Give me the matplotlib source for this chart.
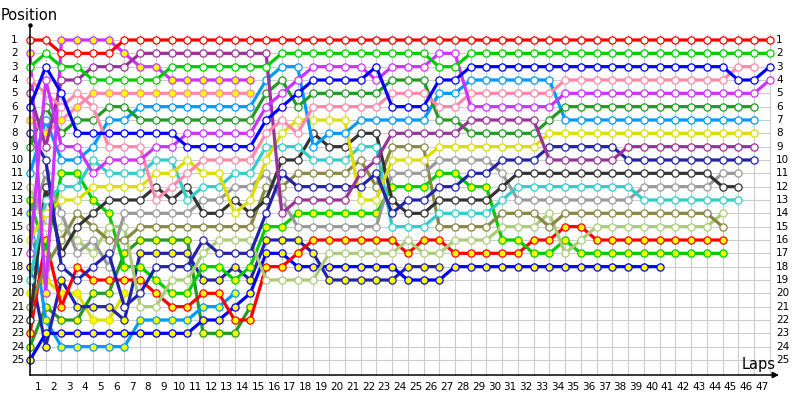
import numpy as np
import matplotlib
matplotlib.use("Agg")
import matplotlib.pyplot as plt

N_ = None
laps = list(range(48))
positions = list(range(1, 26))
lap_labels = [str(i) for i in range(1, 48)]

# ---- positions per lap (lap 0 = grid), None = not running ----
red_open = [1,1,2,2,2,2,1,1,1,1, 1,1,1,1,1,1,1,1,1,1, 1,1,1,1,1,1,1,1,1,1, 1,1,1,1,1,1,1,1,1,1, 1,1,1,1,1,1,1,1]
green_open = [3,2,3,3,4,4,4,4,4,3, 3,3,3,3,3,3,2,2,2,2, 2,2,2,2,2,2,3,3,2,2, 2,2,2,2,2,2,2,2,2,2, 2,2,2,2,2,2,2,2]
blue_open = [6,3,5,8,8,8,8,8,8,8, 9,9,9,9,9,7,6,5,4,4, 4,4,3,6,6,6,4,4,3,3, 3,3,3,3,3,3,3,3,3,3, 3,3,3,3,3,4,4,3]
violet_open = [17,4,9,9,11,10,10,10,9,9, 8,8,8,8,8,6,5,4,3,3, 3,3,4,3,3,3,2,2,6,6, 6,6,6,6,5,5,5,5,5,5, 5,5,5,5,5,5,5,4]
pink_open = [4,5,6,5,6,9,9,9,13,12, 11,10,10,10,10,8,7,8,6,6, 6,6,6,5,5,5,6,6,5,5, 5,5,5,5,4,4,4,4,4,4, 4,4,4,4,4,3,3,N_]
purple_open = [5,9,4,4,3,3,3,2,2,2, 2,2,2,2,2,2,14,13,13,13, 13,11,10,8,8,8,8,8,7,7, 7,7,7,10,10,10,10,10,9,9, 9,9,9,9,9,9,9,N_]
violet_fill = [2,20,1,1,1,1,2,3,3,4, 4,4,4,4,4,N_,N_,N_,N_,N_, N_,N_,N_,N_,N_,N_,N_,N_,N_,N_, N_,N_,N_,N_,N_,N_,N_,N_,N_,N_, N_,N_,N_,N_,N_,N_,N_,N_]
pink_fill = [7,8,7,6,5,5,5,5,5,5, 5,5,5,5,5,N_,N_,N_,N_,N_, N_,N_,N_,N_,N_,N_,N_,N_,N_,N_, N_,N_,N_,N_,N_,N_,N_,N_,N_,N_, N_,N_,N_,N_,N_,N_,N_,N_]
dkgreen_open = [9,6,8,7,7,6,6,7,7,7, 7,7,7,7,7,5,4,6,5,5, 5,5,5,4,4,4,7,7,8,8, 8,8,8,7,6,6,6,6,6,6, 6,6,6,6,6,6,6,N_]
ltblue_open = [11,7,10,10,9,7,7,6,6,6, 6,6,6,6,6,4,3,3,9,8, 8,7,7,7,7,7,5,5,4,4, 4,4,4,4,7,7,7,7,7,7, 7,7,7,7,7,7,7,N_]
navy_open = [8,10,18,19,18,17,21,20,18,18, 18,16,17,17,17,14,11,12,12,12, 12,12,11,14,13,13,12,12,11,11, 10,10,10,9,9,9,9,9,10,10, 10,10,10,10,10,10,10,N_]
yellow_open = [16,14,13,13,12,12,12,12,11,11, 10,11,11,14,13,10,8,7,7,7, 7,13,13,10,10,10,9,9,9,9, 9,9,9,8,8,8,8,8,8,8, 8,8,8,8,8,8,8,N_]
cyan_open = [19,13,12,12,10,11,11,11,10,10, 13,12,12,11,11,9,9,9,10,10, 10,9,9,15,15,15,14,14,14,14, 13,12,12,12,12,12,12,12,12,13, 13,13,13,13,13,13,N_,N_]
dkgray_open = [22,12,17,15,14,13,13,13,12,13, 12,14,14,13,14,13,10,10,8,9, 9,8,8,13,14,14,13,13,13,13, 12,11,11,11,11,11,11,11,11,11, 11,11,11,11,12,12,N_,N_]
gray_open = [15,11,14,17,16,18,14,14,14,14, 14,13,13,12,12,11,13,15,15,15, 15,15,15,11,11,11,10,10,10,10, 11,13,13,13,13,13,13,13,13,12, 12,12,12,12,11,11,N_,N_]
olive_open = [21,18,16,14,15,16,16,15,15,15, 15,15,15,15,15,12,12,11,11,11, 11,10,12,9,9,9,15,15,15,15, 14,14,14,15,14,14,14,14,14,14, 14,14,14,14,15,N_,N_,N_]
ltgreen_open = [12,15,15,16,17,15,15,21,21,19, 19,17,16,16,16,19,19,19,19,17, 17,17,17,17,16,17,17,16,16,16, 15,15,15,14,17,16,15,15,15,15, 15,15,15,15,14,N_,N_,N_]
green_fill = [13,17,11,11,13,14,18,18,19,20, 20,18,18,19,18,15,15,14,14,14, 14,14,14,12,12,12,11,11,12,12, 16,16,17,17,16,17,17,17,17,17, 17,17,17,17,17,N_,N_,N_]
red_fill = [23,16,21,18,19,19,19,19,20,21, 21,20,20,22,22,18,18,17,16,16, 16,16,16,16,17,16,16,17,17,17, 17,17,16,16,15,15,16,16,16,16, 16,16,16,16,16,N_,N_,N_]
blue_fill = [25,23,23,23,23,23,23,23,23,23, 23,22,22,21,20,17,17,18,18,18, 18,18,18,18,19,19,19,18,18,18, 18,18,18,18,18,18,18,18,18,18, 18,N_,N_,N_,N_,N_,N_,N_]
navy_fill = [18,24,19,21,21,21,22,17,17,17, 17,19,19,18,19,16,16,16,17,19, 19,19,19,19,18,18,18,N_,N_,N_, N_,N_,N_,N_,N_,N_,N_,N_,N_,N_, N_,N_,N_,N_,N_,N_,N_,N_]
ltblue_fill = [14,22,24,24,24,24,24,22,22,22, 22,21,21,20,N_,N_,N_,N_,N_,N_, N_,N_,N_,N_,N_,N_,N_,N_,N_,N_, N_,N_,N_,N_,N_,N_,N_,N_,N_,N_, N_,N_,N_,N_,N_,N_,N_,N_]
dkgreen_fill = [24,21,22,22,20,20,17,16,16,16, 16,23,23,23,21,N_,N_,N_,N_,N_, N_,N_,N_,N_,N_,N_,N_,N_,N_,N_, N_,N_,N_,N_,N_,N_,N_,N_,N_,N_, N_,N_,N_,N_,N_,N_,N_,N_]
yellow_fill = [20,19,20,20,22,22,20,N_,N_,N_, N_,N_,N_,N_,N_,N_,N_,N_,N_,N_, N_,N_,N_,N_,N_,N_,N_,N_,N_,N_, N_,N_,N_,N_,N_,N_,N_,N_,N_,N_, N_,N_,N_,N_,N_,N_,N_,N_]

# (series, line colour, marker face)
WHITE, YEL = "#ffffff", "#ffff00"
drivers = [
    (yellow_fill, "#dddd00", YEL),
    (dkgreen_fill, "#229922", YEL),
    (ltblue_fill, "#0099ff", YEL),
    (navy_fill, "#2222aa", YEL),
    (blue_fill, "#0000ff", YEL),
    (red_fill, "#ff0000", YEL),
    (green_fill, "#00cc00", YEL),
    (ltgreen_open, "#aacc77", WHITE),
    (olive_open, "#888844", WHITE),
    (gray_open, "#999999", WHITE),
    (dkgray_open, "#333333", WHITE),
    (cyan_open, "#33cccc", WHITE),
    (yellow_open, "#dddd00", WHITE),
    (navy_open, "#2222aa", WHITE),
    (ltblue_open, "#0099ff", WHITE),
    (dkgreen_open, "#229922", WHITE),
    (pink_fill, "#ff88aa", YEL),
    (violet_fill, "#cc33ff", YEL),
    (purple_open, "#993399", WHITE),
    (pink_open, "#ff88aa", WHITE),
    (violet_open, "#cc33ff", WHITE),
    (blue_open, "#0000ff", WHITE),
    (green_open, "#00cc00", WHITE),
    (red_open, "#ff0000", WHITE),
]

W, H = 800, 400
fig = plt.figure(figsize=(8, 4), dpi=100)
ax = fig.add_axes([0, 0, 1, 1])
# pixel mapping: lap n -> 30 + 15.74 n ; position p -> 40 + 13.333 (p-1)
DX, DY = 15.74, 13.333
ax.set_xlim(-30 / DX, (W - 30) / DX)
ax.set_ylim(1 + (H - 40) / DY, 1 - 40 / DY)
ax.axis("off")

def px(x, y):
    return x / W, 1 - y / H

bottom = 1 + (375 - 40) / DY
top = 1 + (25 - 40) / DY
gc = "#cccccc"
for n in laps:
    ax.plot([n, n], [0.55, bottom], color=gc, lw=0.8, zorder=0)
for p in positions:
    ax.plot([0, 47], [p, p], color=gc, lw=0.8, zorder=0)

for i, (vals, col, face) in enumerate(drivers):
    y = np.array([np.nan if v is None else v for v in vals], dtype=float)
    ax.plot(laps, y, color=col, lw=2.3, solid_joinstyle="round",
            solid_capstyle="round", marker="o", ms=5.2, mfc=face, mec=col,
            mew=0.9, zorder=2 + i)

# axes
ax.plot([0, 0], [bottom, top], color="black", lw=1.1, zorder=50)
ax.plot([0], [top], marker="o", ms=2.2, color="black", zorder=50)
ax.annotate("", xy=((779 - 30) / DX, bottom), xytext=(0, bottom),
            arrowprops=dict(arrowstyle="-|>", color="black", lw=1.1,
                            mutation_scale=9, shrinkA=0, shrinkB=0), zorder=50)

fs = 7.5
for p in positions:
    yy = 40 + DY * (p - 1)
    fig.text(*px(11, yy), str(p), fontsize=fs, ha="left", va="center")
    fig.text(*px(776, yy), str(p), fontsize=fs, ha="left", va="center")
for i, lab in enumerate(lap_labels):
    xx = 30 + DX * (i + 0.5)
    fig.text(*px(xx, 387), lab, fontsize=fs, ha="center", va="center")

fig.text(*px(1, 15), "Position", fontsize=10.5, ha="left", va="center")
fig.text(*px(776, 364), "Laps", fontsize=10.5, ha="right", va="center")

fig.savefig("out.png", dpi=100)
